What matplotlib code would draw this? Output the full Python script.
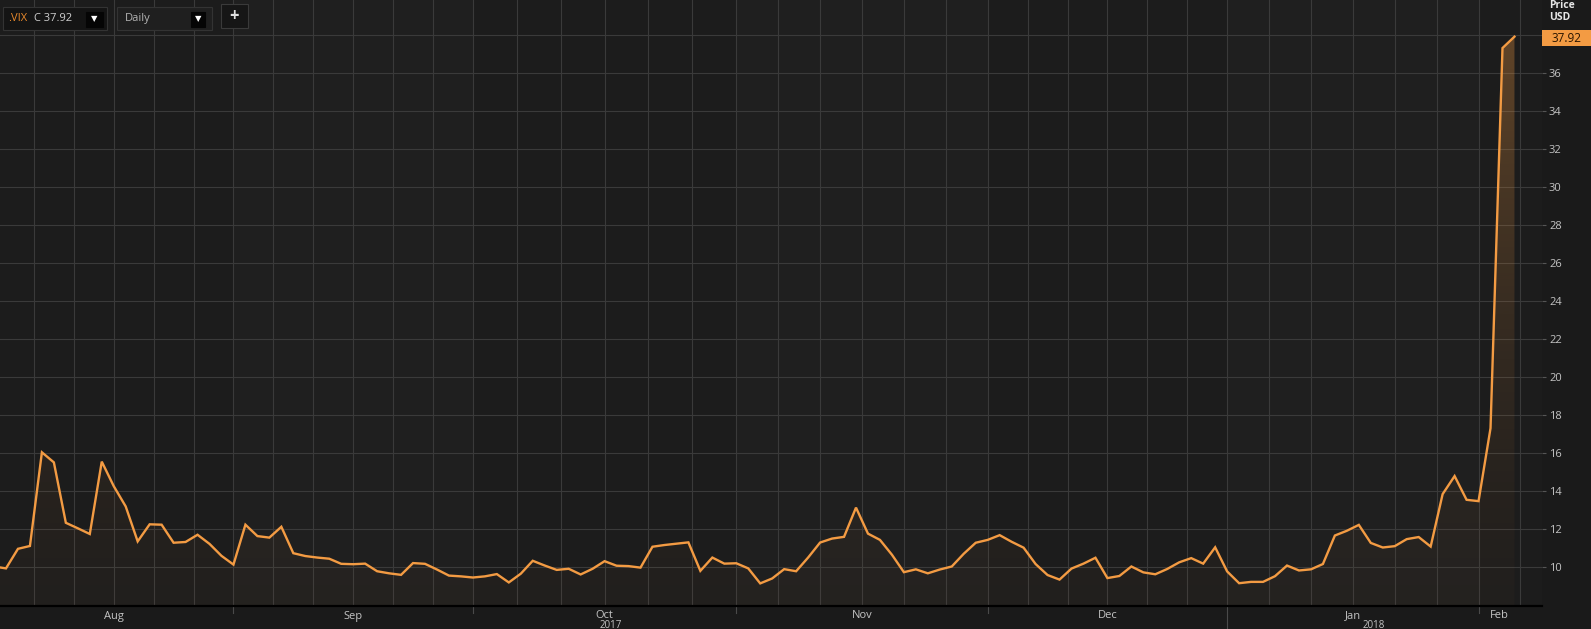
import numpy as np
import pandas as pd
import matplotlib
matplotlib.use("Agg")
import matplotlib.pyplot as plt
from matplotlib import transforms
from matplotlib.patches import Rectangle

# VIX daily closes, Aug 2017 - Feb 2018 (trading days only)
aug_days = [4, 7, 8, 9, 10, 11, 14, 15, 16, 17, 18, 21, 22, 23, 24, 25, 28, 29, 30, 31]
aug_vix = [10.03, 9.93, 10.96, 11.11, 16.04, 15.51, 12.33, 12.04, 11.74, 15.55,
           14.26, 13.19, 11.35, 12.25, 12.23, 11.28, 11.32, 11.70, 11.22, 10.59]
sep_days = [1, 5, 6, 7, 8, 11, 12, 13, 14, 15, 18, 19, 20, 21, 22, 25, 26, 27, 28, 29]
sep_vix = [10.13, 12.23, 11.63, 11.55, 12.12, 10.73, 10.58, 10.50, 10.44, 10.17,
           10.15, 10.18, 9.78, 9.67, 9.59, 10.21, 10.17, 9.87, 9.55, 9.51]
oct_days = [2, 3, 4, 5, 6, 9, 10, 11, 12, 13, 16, 17, 18, 19, 20, 23, 24, 25, 26, 27, 30, 31]
oct_vix = [9.45, 9.51, 9.63, 9.19, 9.65, 10.33, 10.08, 9.85, 9.91, 9.61, 9.91,
           10.31, 10.07, 10.05, 9.97, 11.07, 11.16, 11.23, 11.30, 9.80, 10.50, 10.18]
nov_days = [1, 2, 3, 6, 7, 8, 9, 10, 13, 14, 15, 16, 17, 20, 21, 22, 24, 27, 28, 29, 30]
nov_vix = [10.20, 9.93, 9.14, 9.40, 9.89, 9.78, 10.50, 11.29, 11.50, 11.59, 13.13,
           11.76, 11.43, 10.65, 9.73, 9.88, 9.67, 9.87, 10.03, 10.70, 11.28]
dec_days = [1, 4, 5, 6, 7, 8, 11, 12, 13, 14, 15, 18, 19, 20, 21, 22, 26, 27, 28, 29]
dec_vix = [11.43, 11.68, 11.33, 11.02, 10.16, 9.58, 9.34, 9.92, 10.18, 10.49,
           9.42, 9.53, 10.03, 9.72, 9.62, 9.90, 10.25, 10.47, 10.18, 11.04]
jan_days = [2, 3, 4, 5, 8, 9, 10, 11, 12, 16, 17, 18, 19, 22, 23, 24, 25, 26, 29, 30, 31]
jan_vix = [9.77, 9.15, 9.22, 9.22, 9.52, 10.08, 9.82, 9.88, 10.16, 11.66, 11.91,
           12.22, 11.27, 11.03, 11.10, 11.47, 11.58, 11.08, 13.84, 14.79, 13.54]
feb_days = [1, 2, 5, 6]
feb_vix = [13.47, 17.31, 37.32, 37.92]

months = [(2017, 8, aug_days, aug_vix), (2017, 9, sep_days, sep_vix),
          (2017, 10, oct_days, oct_vix), (2017, 11, nov_days, nov_vix),
          (2017, 12, dec_days, dec_vix), (2018, 1, jan_days, jan_vix),
          (2018, 2, feb_days, feb_vix)]

rows = []
for yr, mo, days, vals in months:
    for d, v in zip(days, vals):
        rows.append((pd.Timestamp(yr, mo, d), v))
df = pd.DataFrame(rows, columns=["date", "close"])
df["i"] = np.arange(len(df))

ticker_name = ".VIX"
interval = "Daily"
last = df["close"].iloc[-1]
yticks = np.arange(10, 39, 2)

W, H = 1591, 629
BG = "#1c1c1c"
BG2 = "#1f1f1f"
GRID = "#3a3a3a"
ORANGE = "#f39b43"
TXT = "#c4c4c4"
plt.rcParams["font.family"] = ["Open Sans", "DejaVu Sans"]

fig = plt.figure(figsize=(W / 100, H / 100), dpi=100, facecolor="#1a1a1a")
ax = fig.add_axes([0, 23 / H, 1542 / W, 606 / H])
ax.set_facecolor(BG)

# month boundaries (first trading day of each month)
mstart = df.groupby([df["date"].dt.year, df["date"].dt.month])["i"].min().tolist()
bounds = mstart + [mstart[-1] + (mstart[-1] - mstart[-2])]

# alternate month shading + vertical grid: each month split in 6
for k in range(len(mstart)):
    a, b = bounds[k], bounds[k + 1]
    if k % 2 == 1:
        ax.axvspan(a, b, color=BG2, lw=0, zorder=0)
    for gx in np.linspace(a, b, 7)[:-1]:
        ax.axvline(gx, color=GRID, lw=0.8, zorder=1)
for yv in yticks:
    ax.axhline(yv, color=GRID, lw=0.8, zorder=1)

ax.set_xlim(0.5, 129.3)
ax.set_ylim(7.95, 39.85)

# gradient fill under the line
x = df["i"].values
y = df["close"].values
poly = ax.fill_between(x, y, 7.95, facecolor="none", edgecolor="none")
t = np.linspace(0, 1, 256)
rgba = np.zeros((256, 1, 4))
rgba[:, 0, :3] = matplotlib.colors.to_rgb(ORANGE)
rgba[:, 0, 3] = 0.03 + 0.32 * t ** 1.6
im = ax.imshow(rgba, extent=[x[0], x[-1], 7.95, 39.85], origin="lower",
               aspect="auto", zorder=2, interpolation="bilinear")
im.set_clip_path(poly.get_paths()[0], transform=ax.transData)
ax.plot(x, y, color=ORANGE, lw=1.7, zorder=3, solid_joinstyle="miter")
ax.set_xlim(0.5, 129.3)
ax.set_ylim(7.95, 39.85)

for s in ax.spines.values():
    s.set_visible(False)
ax.set_xticks([])
ax.yaxis.tick_right()
ax.set_yticks(yticks)
# top tick is hidden behind the last-price tag
ax.set_yticklabels([str(v) if v < 38 else "" for v in yticks])
ax.tick_params(axis="y", colors="#555555", labelcolor=TXT, labelsize=8,
               length=3, width=0.8, pad=2)

# x axis strip
fig.add_artist(plt.Line2D([0, 1542 / W], [23 / H, 23 / H], color="black", lw=1.6,
                          transform=fig.transFigure))
tr = transforms.blended_transform_factory(ax.transData, fig.transFigure)
names = df.groupby([df["date"].dt.year, df["date"].dt.month])["date"].first()
ends = bounds[1:-1] + [x[-1] + 0.5]
for k, (a, b) in enumerate(zip(mstart, ends)):
    ax.text((a + b) / 2, 1 - 616 / H, names.iloc[k].strftime("%b"), transform=tr,
            ha="center", va="center", color=TXT, fontsize=8, clip_on=False)
    if k > 0:
        is_year = names.iloc[k].month == 1
        y0 = 0 if is_year else 1 - 613 / H
        ax.add_line(plt.Line2D([a, a], [23 / H, y0], color="#4a4a4a", lw=0.8,
                               transform=tr, clip_on=False))
years = df.groupby(df["date"].dt.year)["i"].agg(["min", "max"])
for yr, r in years.iterrows():
    ax.text((r["min"] + min(r["max"] + 1, x[-1] + 0.5)) / 2, 1 - 626 / H, str(yr),
            transform=tr, ha="center", va="center", color=TXT, fontsize=7, clip_on=False)

# right panel header + last price tag
fig.text(1549 / W, 1 - 5 / H, "Price", color="#e6e6e6", fontsize=7.5,
         fontweight="bold", va="center", ha="left")
fig.text(1549 / W, 1 - 18 / H, "USD", color="#e6e6e6", fontsize=7.5,
         fontweight="bold", va="center", ha="left")
fig.add_artist(Rectangle((1542 / W, 1 - 46 / H), 49 / W, 16 / H, facecolor=ORANGE,
                         edgecolor="none", transform=fig.transFigure))
fig.text(1566 / W, 1 - 38 / H, f"{last:.2f}", color="#2a1500", fontsize=8.5,
         ha="center", va="center")

# top-left toolbar
def box(x0, y0, x1, y1, fc, ec):
    fig.add_artist(Rectangle((x0 / W, 1 - y1 / H), (x1 - x0) / W, (y1 - y0) / H,
                             facecolor=fc, edgecolor=ec, lw=0.8, transform=fig.transFigure))

box(3, 7, 107, 30, "#141414", "#333333")
box(86, 12, 103, 27, "#050505", "#050505")
fig.text(8 / W, 1 - 18.5 / H, ticker_name, color="#e8892c", fontsize=8, va="center")
fig.text(34 / W, 1 - 18.5 / H, f"C {last:.2f}", color="#cfcfcf", fontsize=8, va="center")
fig.text(94.5 / W, 1 - 19 / H, "▼", color="white", fontsize=6, ha="center",
         va="center", family=["DejaVu Sans"])
box(117, 7, 212, 30, "#1f1f1f", "#333333")
box(191, 12, 205, 27, "#050505", "#050505")
fig.text(125 / W, 1 - 18.5 / H, interval, color="#b5b5b5", fontsize=8, va="center")
fig.text(198 / W, 1 - 19 / H, "▼", color="white", fontsize=6, ha="center",
         va="center", family=["DejaVu Sans"])
box(221, 4, 248, 28, "#161616", "#3a3a3a")
fig.text(234.5 / W, 1 - 16 / H, "+", color="#e0e0e0", fontsize=12, fontweight="bold",
         ha="center", va="center")

fig.savefig("out.png", dpi=100, facecolor=fig.get_facecolor())
